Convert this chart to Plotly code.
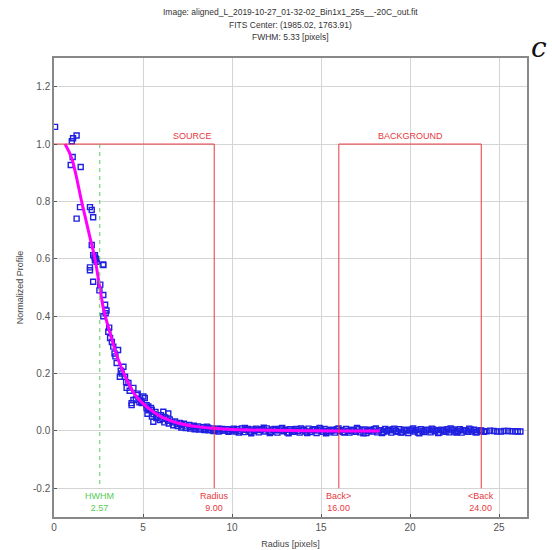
import plotly.graph_objects as go

# ---------------- data ----------------
core_x = [0.06, 1.0, 1.07, 1.27, 1.05, 0.94, 1.5, 1.46, 1.27, 2.02, 2.12, 2.2, 2.12, 2.3, 2.35, 2.4,
          2.28, 2.76, 2.02, 2.2, 2.3, 2.77, 2.02, 2.2, 2.77, 2.87, 2.77, 2.95, 3.05, 3.15, 3.1, 3.33,
          3.6, 3.52, 3.9, 3.7, 3.45, 4.18, 4.46, 4.36, 5.1, 4.93, 3.99, 4.08, 4.46, 4.36, 5.02, 4.7,
          4.8, 4.25, 3.8, 4.6, 5.2, 5.3, 2.6, 2.55, 2.9, 3.25, 3.4, 3.75, 4.05, 4.9, 4.65]
core_y = [1.06, 1.01, 1.02, 1.03, 0.955, 0.927, 0.92, 0.78, 0.74, 0.78, 0.77, 0.745, 0.648, 0.613,
          0.60, 0.59, 0.605, 0.58, 0.57, 0.613, 0.595, 0.578, 0.56, 0.52, 0.474, 0.44, 0.40, 0.42,
          0.346, 0.324, 0.36, 0.294, 0.282, 0.237, 0.224, 0.189, 0.26, 0.167, 0.15, 0.097, 0.115,
          0.097, 0.189, 0.15, 0.108, 0.09, 0.12, 0.13, 0.1, 0.14, 0.2, 0.11, 0.08, 0.085, 0.51,
          0.49, 0.41, 0.31, 0.27, 0.21, 0.17, 0.105, 0.125]

mid_x = [5.2, 5.3, 5.45, 5.6, 5.7, 5.85, 6.0, 6.1, 6.25, 6.4, 6.5, 6.65, 6.8, 6.9, 7.05, 7.2, 7.3,
         7.45, 7.6, 7.7, 7.85, 8.0, 8.1, 8.25, 8.4, 8.5, 8.65, 8.8, 8.9, 9.05, 9.2, 9.3, 9.45, 9.6,
         9.7, 9.85, 10.0, 5.25, 5.5, 5.75, 5.95, 6.2, 6.45, 6.7, 6.95, 7.15, 7.4, 7.65, 7.9, 8.15,
         8.45, 8.7, 8.95, 9.25, 9.5, 9.8, 6.14, 6.42, 5.49, 5.58, 7.08, 7.83, 8.58, 9.3]
mid_y = [0.09, 0.072, 0.08, 0.058, 0.066, 0.05, 0.055, 0.042, 0.047, 0.035, 0.04, 0.03, 0.033,
         0.024, 0.028, 0.02, 0.025, 0.016, 0.021, 0.013, 0.018, 0.012, 0.016, 0.008, 0.013, 0.006,
         0.011, 0.004, 0.009, 0.003, 0.008, 0.002, 0.007, 0.001, 0.006, 0.0, 0.005, 0.06, 0.05,
         0.045, 0.038, 0.03, 0.026, 0.02, 0.017, 0.012, 0.01, 0.008, 0.006, 0.005, 0.003, 0.002,
         0.0, -0.002, 0.001, -0.003, 0.067, 0.061, 0.073, 0.032, 0.027, 0.015, 0.015, 0.007]

tail_x = [10.1, 10.2, 10.3, 10.45, 10.55, 10.65, 10.8, 10.9, 11.0, 11.15, 11.25, 11.35, 11.5,
          11.6, 11.7, 11.85, 11.95, 12.05, 12.2, 12.3, 12.4, 12.55, 12.65, 12.75, 12.9, 13.0,
          13.1, 13.25, 13.35, 13.45, 13.6, 13.7, 13.8, 13.95, 14.05, 14.15, 14.3, 14.4, 14.5,
          14.65, 14.75, 14.85, 15.0, 15.1, 15.2, 15.35, 15.45, 15.55, 15.7, 15.8, 15.9, 16.05,
          16.15, 16.25, 16.4, 16.5, 16.6, 16.75, 16.85, 16.95, 17.1, 17.2, 17.3, 17.45, 17.55,
          17.65, 17.8, 17.9, 18.0, 18.15, 18.25, 18.35, 18.5, 18.6, 18.7, 18.85, 18.95, 19.05,
          19.2, 19.3, 19.4, 19.55, 19.65, 19.75, 19.9, 20.0, 20.1, 20.25, 20.35, 20.45, 20.6,
          20.7, 20.8, 20.95, 21.05, 21.15, 21.3, 21.4, 21.5, 21.65, 21.75, 21.85, 22.0, 22.1,
          22.2, 22.35, 22.45, 22.55, 22.7, 22.8, 22.9, 23.05, 23.15, 23.25, 23.4, 23.5, 23.6,
          23.75, 23.85, 23.95, 24.3, 24.7, 25.1, 25.5, 25.9, 26.2]
tail_y = [0.008, -0.002, 0.006, 0.0, 0.009, -0.004, 0.004, 0.007, -0.003, 0.005, 0.0, 0.008,
          -0.005, 0.003, 0.006, -0.002, 0.009, 0.001, -0.004, 0.005, 0.007, -0.006, 0.002, 0.008,
          -0.001, 0.004, -0.005, 0.006, 0.001, -0.003, 0.007, 0.0, -0.006, 0.005, 0.003, -0.002,
          0.008, -0.004, 0.002, 0.006, -0.007, 0.001, 0.005, -0.003, 0.007, 0.0, -0.005, 0.004,
          0.002, -0.006, 0.006, -0.001, 0.003, -0.004, 0.007, 0.0, -0.006, 0.004, 0.001, -0.003,
          0.006, -0.005, 0.002, 0.005, -0.007, 0.0, 0.004, -0.002, 0.006, -0.005, 0.001, 0.003,
          -0.004, 0.007, -0.001, 0.002, -0.006, 0.005, 0.0, -0.003, 0.006, -0.005, 0.002, 0.004,
          -0.007, 0.001, 0.005, -0.002, 0.003, -0.006, 0.006, 0.0, -0.004, 0.004, 0.002, -0.005,
          0.005, -0.001, 0.003, -0.006, 0.004, 0.001, -0.003, 0.006, -0.005, 0.002, 0.005,
          -0.004, 0.0, 0.006, -0.006, 0.003, 0.001, -0.003, 0.005, -0.002, 0.004, -0.005, 0.002,
          0.0, -0.001, 0.0, -0.002, 0.0, -0.001, -0.002]

tail2_x = [10.05, 10.38, 10.72, 11.08, 11.42, 11.78, 12.12, 12.48, 12.82, 13.18, 13.52, 13.88,
           14.22, 14.58, 14.92, 15.28, 15.62, 15.98, 16.32, 16.68, 17.02, 17.38, 17.72, 18.08,
           18.42, 18.78, 19.12, 19.48, 19.82, 20.18, 20.52, 20.88, 21.22, 21.58, 21.92, 22.28,
           22.62, 22.98, 23.32, 23.68, 24.0, 24.15, 24.5, 24.9, 25.3, 25.7, 26.05]
tail2_y = [0.002, -0.006, 0.01, -0.008, 0.004, 0.011, -0.007, 0.003, 0.01, -0.008, 0.002, 0.009,
           -0.007, 0.004, 0.01, -0.008, 0.001, 0.009, -0.006, 0.003, 0.01, -0.008, 0.002, 0.009,
           -0.007, 0.004, 0.008, -0.006, 0.002, 0.009, -0.008, 0.003, 0.008, -0.007, 0.002, 0.009,
           -0.006, 0.003, 0.008, -0.005, 0.002, -0.003, 0.001, -0.002, 0.0, -0.001, -0.002]

fit_x = [0.62, 1.0, 1.55, 2.0, 2.3, 2.57, 2.8, 3.2, 3.6, 4.0, 4.5, 5.0, 5.5, 6.0, 6.5, 7.0, 8.0,
         9.0, 10.0, 12.0, 14.0, 16.0, 18.3]
fit_y = [1.0, 0.95, 0.8, 0.68, 0.6, 0.5, 0.42, 0.33, 0.25, 0.19, 0.13, 0.095, 0.07, 0.05, 0.037,
         0.027, 0.015, 0.009, 0.005, 0.002, 0.001, 0.0, 0.0]

hwhm = 2.57
src_radius = 9.0
back_in = 16.0
back_out = 24.0

title_lines = ["Image: aligned_L_2019-10-27_01-32-02_Bin1x1_25s__-20C_out.fit",
               "FITS Center: (1985.02, 1763.91)",
               "FWHM: 5.33 [pixels]"]
x_ticks = [0, 5, 10, 15, 20, 25]
y_ticks = [-0.2, 0.0, 0.2, 0.4, 0.6, 0.8, 1.0, 1.2]

# ---------------- figure ----------------
RED = "#e8383d"
GREEN = "#55cc55"
BLUE = "#2020e0"

fig = go.Figure()
fig.add_trace(go.Scatter(x=core_x + mid_x + tail_x + tail2_x, y=core_y + mid_y + tail_y + tail2_y,
                         mode="markers",
                         marker=dict(symbol="square-open", size=5, color=BLUE,
                                     line=dict(width=1.4, color=BLUE)),
                         showlegend=False))
fig.add_trace(go.Scatter(x=fit_x, y=fit_y, mode="lines", line=dict(color="#ff00ff", width=3,
                         shape="spline"), showlegend=False))

# aperture lines
fig.add_trace(go.Scatter(x=[0, src_radius, src_radius], y=[1.0, 1.0, -0.2], mode="lines",
                         line=dict(color=RED, width=1), showlegend=False))
fig.add_trace(go.Scatter(x=[back_in, back_in, back_out, back_out], y=[-0.2, 1.0, 1.0, -0.2],
                         mode="lines", line=dict(color=RED, width=1), showlegend=False))
fig.add_trace(go.Scatter(x=[hwhm, hwhm], y=[1.0, -0.2], mode="lines",
                         line=dict(color=GREEN, width=1, dash="4px,4px"), showlegend=False))

lab_font = dict(family="Liberation Sans, Arial", size=9)
fig.add_annotation(x=src_radius, y=1.0, text="SOURCE", showarrow=False, xanchor="right",
                   yanchor="bottom", yshift=1, font=dict(color=RED, **lab_font))
fig.add_annotation(x=(back_in + back_out) / 2, y=1.0, text="BACKGROUND", showarrow=False,
                   xanchor="center", yanchor="bottom", yshift=1, font=dict(color=RED, **lab_font))
for xv, txt, col in [(hwhm, "HWHM<br>%.2f" % hwhm, GREEN), (src_radius, "Radius<br>%.2f" % src_radius, RED),
                     (back_in, "Back><br>%.2f" % back_in, RED), (back_out, "&lt;Back<br>%.2f" % back_out, RED)]:
    fig.add_annotation(x=xv, y=-0.2, text=txt, showarrow=False, xanchor="center", yanchor="top",
                       yshift=-1, font=dict(color=col, **lab_font))

for i, t in enumerate(title_lines):
    fig.add_annotation(xref="paper", yref="paper", x=0.5, y=1.0, yshift=39 - 12.5 * i,
                       text=t, showarrow=False, xanchor="center", yanchor="bottom",
                       font=dict(family="Liberation Sans, Arial", size=8.5, color="#333"))

fig.add_annotation(xref="paper", yref="paper", x=1.0, y=1.0, xshift=22, yshift=-8, text="<i>c</i>",
                   showarrow=False, xanchor="right", yanchor="bottom",
                   font=dict(family="DejaVu Serif, Liberation Serif", size=28, color="#111"))

axis_common = dict(showgrid=True, gridcolor="#d4d4d4", gridwidth=1, showline=True,
                   linecolor="#888", linewidth=1.5, mirror=True, ticks="inside", ticklen=3,
                   tickcolor="#555", zeroline=False, automargin=False,
                   tickfont=dict(family="Liberation Sans, Arial", size=10, color="#555"))
fig.update_xaxes(range=[0, 26.57], tickvals=x_ticks, ticktext=[str(v) for v in x_ticks],
                 title=dict(text="Radius [pixels]", standoff=9,
                            font=dict(family="Liberation Sans, Arial", size=9, color="#444")),
                 **axis_common)
fig.update_yaxes(range=[-0.3, 1.3], tickvals=y_ticks, ticktext=["%.1f" % v for v in y_ticks],
                 title=dict(text="Normalized Profile", standoff=8,
                            font=dict(family="Liberation Sans, Arial", size=9, color="#444")),
                 **axis_common)
fig.update_layout(width=552, height=550, margin=dict(l=54, r=25, t=58, b=33, autoexpand=False),
                  plot_bgcolor="white", paper_bgcolor="white")
fig.write_html("out.html")
